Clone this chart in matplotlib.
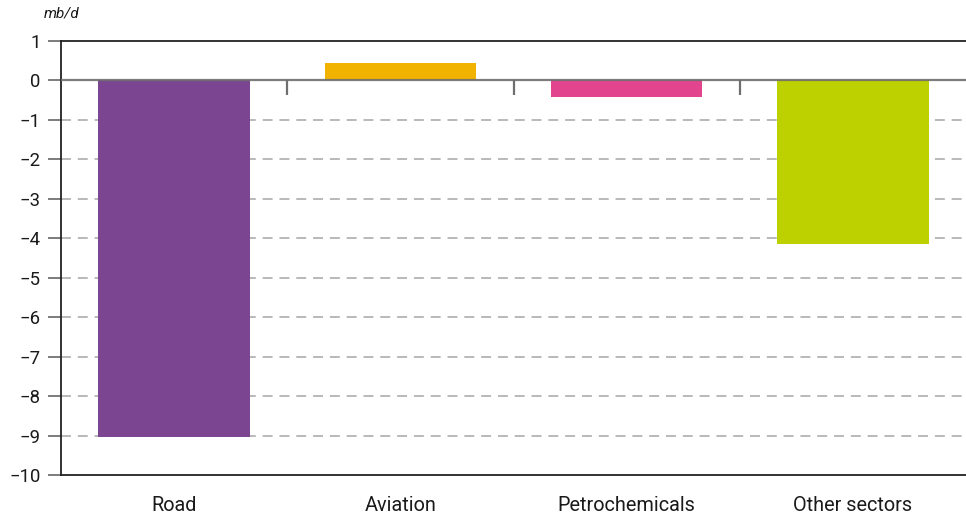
import matplotlib
matplotlib.use("Agg")
import matplotlib.pyplot as plt

categories = ["Road", "Aviation", "Petrochemicals", "Other sectors"]
values = [-9.03, 0.43, -0.42, -4.14]
colors = ["#7B4591", "#F2B300", "#E2458E", "#BDD000"]
yticks = list(range(-10, 2))

plt.rcParams["font.family"] = ["Roboto", "DejaVu Sans"]

fig = plt.figure(figsize=(9.66, 5.17), dpi=100)
ax = fig.add_axes([61 / 966, 1 - 475 / 517, 1 - 61 / 966, (475 - 41) / 517])

x = list(range(len(categories)))
ax.bar(x, values, width=0.67, color=colors, zorder=2)

ax.set_xlim(-0.5, len(categories) - 0.5)
ax.set_ylim(-10, 1)

# dashed horizontal gridlines for negative values
for y in yticks:
    if y < 0 and y > -10:
        ax.axhline(y, color="#a5a5a5", lw=1.1, ls=(0, (6.5, 4.5)), zorder=1)

# zero baseline and separators between categories
ax.axhline(0, color="#6f6f6f", lw=1.6, zorder=3, alpha=0.9)
ax.vlines([i + 0.5 for i in x[:-1]], -0.38, 0, color="#6f6f6f", lw=1.6, zorder=3)

ax.set_yticks(yticks)
ax.set_yticklabels([str(v).replace("-", "\u2212") for v in yticks], fontsize=13.3, color="#1a1a1a")
ax.set_xticks(x)
ax.set_xticklabels(categories, fontsize=14.3, color="#1a1a1a")
ax.tick_params(axis="x", length=0, pad=15)
ax.tick_params(axis="y", length=9.5, width=1.2, color="#666666", pad=5)

for side in ["left", "bottom", "top"]:
    ax.spines[side].set_color("#222222")
    ax.spines[side].set_linewidth(1.3)
ax.spines["right"].set_visible(False)

fig.text(44 / 966, 1 - 14 / 517, "mb/d", fontsize=11, style="italic", color="#1a1a1a", va="center", ha="left")

fig.savefig("out.png", dpi=100)
